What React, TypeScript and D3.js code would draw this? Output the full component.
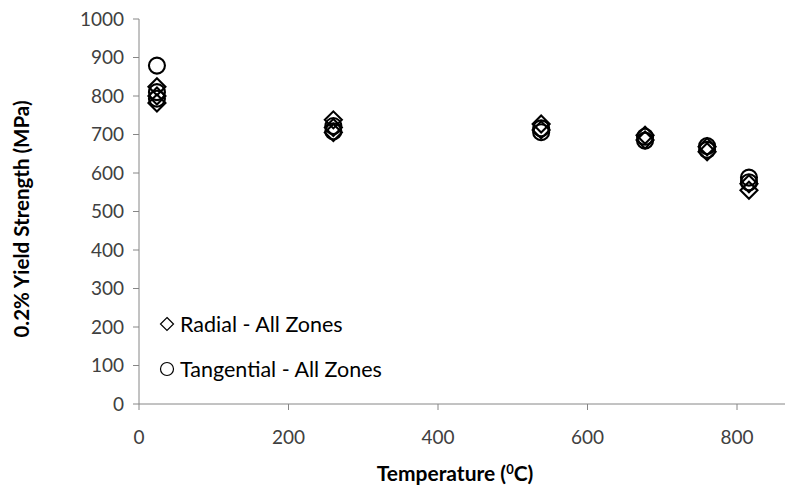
import React from "react";
import * as d3 from "d3";

const xTicks = [0, 200, 400, 600, 800];
const yTicks = [0, 100, 200, 300, 400, 500, 600, 700, 800, 900, 1000];

const radialTemp = [24, 24, 24, 260, 260, 260, 538, 538, 677, 677, 760, 760, 816, 816];
const radialValue = [824, 800, 782, 738, 718, 705, 727, 712, 698, 686, 668, 655, 572, 555];

const tangentialTemp = [24, 24, 24, 260, 260, 538, 538, 677, 677, 760, 760, 816, 816];
const tangentialValue = [879, 810, 793, 722, 708, 716, 706, 694, 684, 670, 660, 588, 576];

const legendLabels = ["Radial - All Zones", "Tangential - All Zones"];

const W = 785;
const H = 489;
const FONT = "Lato, 'Open Sans', sans-serif";
const AXIS = "#868686";

export default function App() {
  const x = d3.scaleLinear().domain([0, 800]).range([139, 737]);
  const y = d3.scaleLinear().domain([0, 1000]).range([404, 19]);
  const diamond = (cx: number, cy: number, s: number) =>
    `M${cx},${cy - s}L${cx + s},${cy}L${cx},${cy + s}L${cx - s},${cy}Z`;

  return (
    <svg
      width={W}
      height={H}
      style={{ position: "absolute", left: 0, top: 0, background: "#fff" }}
      fontFamily={FONT}
    >
      {/* y axis */}
      <line x1={139} x2={139} y1={y(1000)} y2={y(0)} stroke={AXIS} strokeWidth={1} />
      {yTicks.map((t) => (
        <g key={"y" + t}>
          <line x1={133} x2={139} y1={y(t)} y2={y(t)} stroke={AXIS} />
          <text x={124} y={y(t)} dy="0.35em" textAnchor="end" fontSize={19} fill="#404040">
            {t}
          </text>
        </g>
      ))}
      {/* x axis */}
      <line x1={139} x2={W} y1={y(0)} y2={y(0)} stroke={AXIS} strokeWidth={1} />
      {xTicks.map((t) => (
        <g key={"x" + t}>
          <line x1={x(t)} x2={x(t)} y1={y(0)} y2={y(0) + 6} stroke={AXIS} />
          <text x={x(t)} y={437} dy="0.35em" textAnchor="middle" fontSize={19} fill="#404040">
            {t}
          </text>
        </g>
      ))}
      {/* axis titles */}
      <text
        transform={`translate(22,219) rotate(-90)`}
        textAnchor="middle"
        dy="0.35em"
        fontSize={20.5}
        fontWeight="bold"
        fill="#000"
      >
        0.2% Yield Strength (MPa)
      </text>
      <text x={455} y={481} textAnchor="middle" fontSize={21} fontWeight="bold" fill="#000">
        Temperature (<tspan dy={-7} fontSize={13}>0</tspan>
        <tspan dy={7}>C)</tspan>
      </text>

      {/* data */}
      {radialTemp.map((t, i) => (
        <path
          key={"r" + i}
          d={diamond(x(t), y(radialValue[i]), 8.5)}
          fill="none"
          stroke="#000"
          strokeWidth={2.1}
        />
      ))}
      {tangentialTemp.map((t, i) => (
        <circle
          key={"t" + i}
          cx={x(t)}
          cy={y(tangentialValue[i])}
          r={8}
          fill="none"
          stroke="#000"
          strokeWidth={2.1}
        />
      ))}

      {/* legend */}
      <path d={diamond(167, 324, 6.5)} fill="none" stroke="#000" strokeWidth={1.2} />
      <text x={180} y={324} dy="0.35em" fontSize={21.5} fill="#000">
        {legendLabels[0]}
      </text>
      <circle cx={167} cy={369} r={6.5} fill="none" stroke="#000" strokeWidth={1.2} />
      <text x={180} y={369} dy="0.35em" fontSize={21.5} fill="#000">
        {legendLabels[1]}
      </text>
    </svg>
  );
}
